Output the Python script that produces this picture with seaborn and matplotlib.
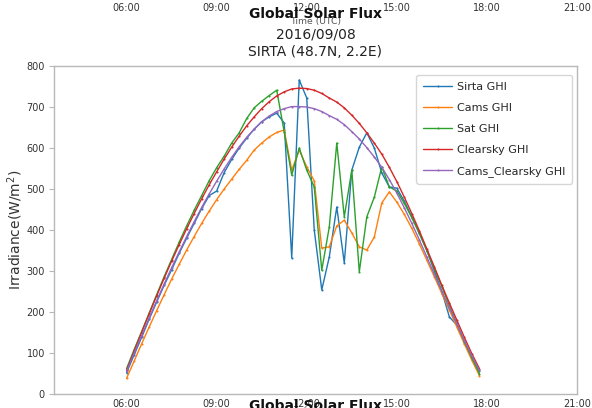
import pandas as pd
import matplotlib
matplotlib.use("Agg")
import matplotlib.pyplot as plt
import matplotlib.dates as mdates
import seaborn as sns

# 15-minute samples on 2016-09-08, 06:00 to 17:45 UTC
times = pd.date_range("2016-09-08 06:00", "2016-09-08 17:45", freq="15min")

sirta_ghi = [52, 95, 138, 182, 224, 265, 303, 343, 380, 416,
             452, 484, 495, 540, 572, 600, 624, 646, 664, 676,
             685, 661, 332, 766, 722, 400, 254, 334, 456, 320,
             546, 602, 637, 600, 539, 505, 502, 470, 432, 392,
             350, 300, 250, 188, 168, 128, 90, 56]
cams_ghi = [38, 80, 122, 163, 203, 242, 280, 316, 351, 384,
            416, 446, 474, 500, 524, 548, 570, 595, 612, 627,
            638, 644, 546, 595, 554, 520, 356, 359, 410, 424,
            393, 359, 351, 383, 466, 493, 468, 438, 404, 366,
            326, 286, 245, 205, 163, 122, 82, 45]
sat_ghi = [62, 108, 152, 197, 242, 286, 328, 370, 410, 448,
           484, 520, 552, 580, 612, 637, 672, 698, 714, 728,
           741, 639, 534, 600, 546, 505, 302, 407, 612, 432,
           546, 298, 432, 480, 554, 505, 495, 465, 430, 392,
           350, 305, 262, 215, 172, 128, 88, 50]
clearsky_ghi = [58, 104, 150, 195, 239, 282, 324, 364, 403, 440,
                476, 510, 542, 573, 602, 629, 654, 676, 696, 713,
                727, 737, 744, 746, 745, 741, 733, 722, 712, 698,
                680, 660, 637, 612, 585, 553, 518, 480, 440, 398,
                354, 310, 265, 222, 180, 138, 98, 62]
cams_clearsky_ghi = [55, 99, 142, 185, 227, 268, 308, 346, 384, 420,
                     455, 488, 519, 549, 577, 603, 626, 646, 664, 678,
                     689, 696, 701, 701, 700, 696, 689, 679, 670, 657,
                     640, 622, 601, 578, 553, 523, 490, 454, 416, 376,
                     334, 292, 250, 210, 170, 130, 92, 58]

series_names = ["Sirta GHI", "Cams GHI", "Sat GHI", "Clearsky GHI", "Cams_Clearsky GHI"]
series_values = [sirta_ghi, cams_ghi, sat_ghi, clearsky_ghi, cams_clearsky_ghi]
series_colors = ["#1f77b4", "#ff7f0e", "#2ca02c", "#d62728", "#9467bd"]

hour_ticks = [6, 9, 12, 15, 18, 21]
x_start = pd.Timestamp("2016-09-08 03:35")
x_end = pd.Timestamp("2016-09-08 21:00")

sns.set_style("white")
plt.rcParams["font.family"] = ["DejaVu Sans"]

W, H = 592, 408
fig = plt.figure(figsize=(W / 100, H / 100), dpi=100)


def box(x0, y0, x1, y1):
    """Axes rectangle given in pixel edges measured from the top-left."""
    return [x0 / W, 1 - y1 / H, (x1 - x0) / W, (y1 - y0) / H]


def time_axis(a):
    a.set_xlim(x_start, x_end)
    a.xaxis.set_major_locator(mdates.HourLocator(byhour=hour_ticks))
    a.xaxis.set_major_formatter(mdates.DateFormatter("%H:%M"))


# panel above: only its time axis is inside the figure
ax_top = fig.add_axes(box(54, -200, 577, -5))
time_axis(ax_top)
ax_top.set_yticks([])
for s in ax_top.spines.values():
    s.set_visible(False)
ax_top.tick_params(axis="x", labelsize=7, length=0, pad=6, colors="#333333")
ax_top.set_xlabel("Time (UTC)", fontsize=6.7, labelpad=2.5, color="#555555")

# main panel
ax = fig.add_axes(box(54, 66, 577, 394))
for name, vals, col in zip(series_names, series_values, series_colors):
    sns.lineplot(x=times, y=vals, ax=ax, color=col, label=name,
                 marker=".", markersize=3, markeredgewidth=0, linewidth=1.0)

time_axis(ax)
ax.set_ylim(0, 800)
ax.set_yticks(range(0, 801, 100))
for s in ax.spines.values():
    s.set_color("#b8b8b8")
    s.set_linewidth(1.0)
ax.tick_params(axis="y", left=True, length=3.5, width=0.8, color="#b8b8b8",
               labelsize=7, pad=3, labelcolor="#333333")
ax.tick_params(axis="x", bottom=False, length=0, labelsize=7, pad=3.5,
               labelcolor="#333333")
ax.set_xlabel("")
ax.set_ylabel("Irradiance(W/m$^2$)", fontsize=10, labelpad=1, color="#333333")
ax.set_title("2016/09/08\nSIRTA (48.7N, 2.2E)", fontsize=10, pad=7,
             linespacing=1.3, color="#222222")

handles, labels = ax.get_legend_handles_labels()
ax.legend(handles, labels, loc="upper right",
          bbox_to_anchor=(572 / W, 1 - 75 / H), bbox_transform=fig.transFigure,
          borderaxespad=0, fontsize=8, frameon=True, edgecolor="#cccccc",
          fancybox=True, handlelength=2.6, handletextpad=0.45,
          labelspacing=1.0, borderpad=0.6)

fig.suptitle("Global Solar Flux", x=315.5 / W, y=1 - 14 / H, va="center",
             fontsize=10, fontweight="bold", color="#111111")

# panel below: only its title reaches into the figure
ax_bot = fig.add_axes(box(54, 417, 577, 600))
ax_bot.axis("off")
ax_bot.set_title("Global Solar Flux", fontsize=10, fontweight="bold",
                 pad=5, color="#111111")

fig.savefig("out.png", dpi=100)
